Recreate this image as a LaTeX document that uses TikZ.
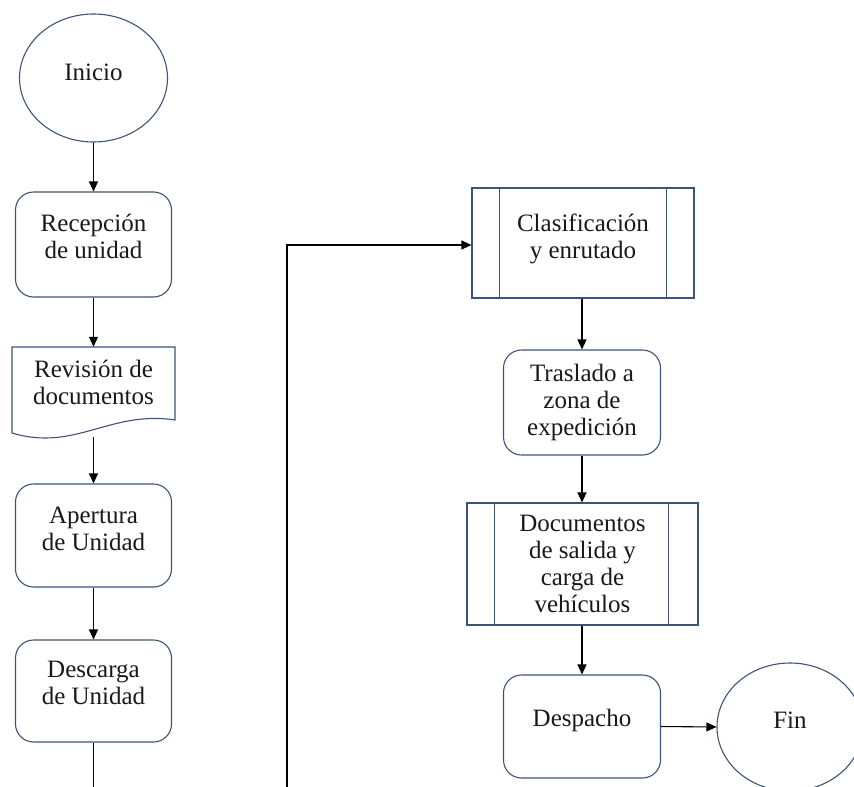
\documentclass[tikz,border=0pt]{standalone}
\usepackage{fontspec}
\setmainfont{Liberation Serif}
\newfontfamily\boxfont{Liberation Serif}
\usetikzlibrary{shapes.geometric,arrows.meta}
\definecolor{frame}{HTML}{3E5378}
\begin{document}
\begin{tikzpicture}[x=1pt,y=-1pt,
  box/.style={draw=frame,line width=1.1pt,inner sep=0pt,rounded corners=18pt},
  procbox/.style={draw=frame,line width=1.1pt,inner sep=0pt},
  term/.style={ellipse,draw=frame,line width=1.1pt,inner sep=0pt},
  txt/.style={align=center,inner sep=0pt,text=black!90,font=\boxfont\fontsize{25}{27}\selectfont},
  flow/.style={line width=1.1pt,-{Triangle[length=10pt,width=9pt]}},
  plain/.style={line width=1.1pt}]
\useasboundingbox (0,0) rectangle (854,787);
\clip (0,0) rectangle (854,787);

% left column
\node[term,minimum width=148pt,minimum height=128pt] (inicio) at (93.5,78) {};
\node[txt] (inicioT) at ([yshift=6pt]inicio.center) {Inicio};

\node[box,minimum width=156pt,minimum height=105pt] (rec) at (93.5,244.5) {};
\node[txt] (recT) at ([yshift=8pt]rec.center) {Recepción\\de unidad};

% document shape with wavy bottom
\node[minimum width=163pt,minimum height=86pt,inner sep=0pt] (rev) at (93.5,390) {};
\draw[draw=frame,line width=1.1pt] (12,433) -- (12,347) -- (175,347) -- (175,420)
  .. controls (110,410) and (75,452) .. (12,433);
\node[txt] (revT) at (93.5,382) {Revisión de\\documentos};
\coordinate (revB) at (93.5,437);

\node[box,minimum width=156pt,minimum height=103pt] (ap) at (93.5,535.5) {};
\node[txt] (apT) at ([yshift=7pt]ap.center) {Apertura\\de Unidad};

\node[box,minimum width=156pt,minimum height=102pt] (desc) at (93.5,691) {};
\node[txt] (descT) at ([yshift=8pt]desc.center) {Descarga\\de Unidad};

\coordinate (endL) at (93.5,790);
\coordinate (endR) at (287,790);

% right column
\node[procbox,minimum width=222pt,minimum height=110pt] (clas) at (583,243) {};
\draw[draw=frame,line width=1.1pt] ([xshift=28pt]clas.north west) -- ([xshift=28pt]clas.south west);
\draw[draw=frame,line width=1.1pt] ([xshift=-28pt]clas.north east) -- ([xshift=-28pt]clas.south east);
\node[txt] (clasT) at ([yshift=4.5pt]clas.center) {Clasificación\\y enrutado};

\node[box,minimum width=157pt,minimum height=105pt] (tras) at (582,402.5) {};
\node[txt] (trasT) at (tras.center) {Traslado a\\zona de\\expedición};

\node[procbox,minimum width=231pt,minimum height=122pt] (docs) at (582.5,564) {};
\draw[draw=frame,line width=1.1pt] ([xshift=28pt]docs.north west) -- ([xshift=28pt]docs.south west);
\draw[draw=frame,line width=1.1pt] ([xshift=-30pt]docs.north east) -- ([xshift=-30pt]docs.south east);
\node[txt] (docsT) at (docs.center) {Documentos\\de salida y\\carga de\\vehículos};

\node[box,minimum width=157pt,minimum height=103pt] (desp) at (582,726.5) {};
\node[txt] (despT) at ([yshift=6.5pt]desp.center) {Despacho};

\node[term,minimum width=146pt,minimum height=128pt] (fin) at (790,727) {};
\node[txt] (finT) at ([yshift=7pt]fin.center) {Fin};

% connectors
\draw[flow] (inicio.south) -- (rec.north);
\draw[flow] (rec.south) -- (rev.north);
\draw[flow] (revB) -- (ap.north);
\draw[flow] (ap.south) -- (desc.north);
\draw[plain] (desc.south) -- (endL);
\draw[flow] (endR) |- ([yshift=-2pt]clas.west);
\draw[flow] (clas.south -| tras.north) -- (tras.north);
\draw[flow] (tras.south) -- (tras.south |- docs.north);
\draw[flow] (docs.south -| desp.north) -- (desp.north);
\draw[flow] (desp.east) -- (fin.west);
\end{tikzpicture}
\end{document}
